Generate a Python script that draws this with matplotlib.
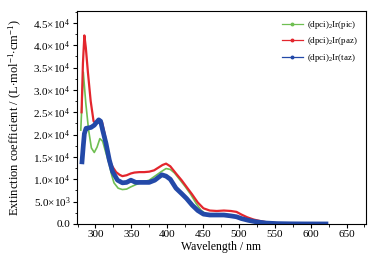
import numpy as np
import matplotlib
matplotlib.use("Agg")
import matplotlib.pyplot as plt
from matplotlib.ticker import FuncFormatter, MultipleLocator
from matplotlib.lines import Line2D

plt.rcParams['font.family'] = ['Liberation Serif', 'DejaVu Serif']
plt.rcParams['mathtext.fontset'] = 'custom'
plt.rcParams['mathtext.rm'] = 'Liberation Serif'
plt.rcParams['mathtext.it'] = 'Liberation Serif:italic'

# wavelength (nm) / extinction coefficient (1e4 L mol-1 cm-1)
wl_pic = [279.5, 283, 286.5, 290.4, 294.3, 298.3, 302.2, 306.1, 310, 314, 318.9, 322.8, 325.8, 331.6,
          337.5, 343.4, 349.3, 356.2, 366, 374.9, 383.7, 391.6, 398.4, 404.3, 410.2, 417.1, 424.9, 432.8,
          440.7, 447.5, 454.4, 464.2, 474, 483.9, 491.7, 498.6, 508.4, 518.2, 533, 547.7, 562.4, 582]
eps_pic = [2.1, 3.4, 2.7, 2.1, 1.7, 1.6, 1.72, 1.91, 1.85, 1.62, 1.35, 1.08, 0.92, 0.8,
           0.77, 0.78, 0.83, 0.88, 0.94, 0.98, 1.08, 1.17, 1.24, 1.22, 1.14, 1.0, 0.84, 0.66,
           0.45, 0.3, 0.22, 0.2, 0.2, 0.2, 0.18, 0.14, 0.09, 0.05, 0.02, 0.008, 0.003, 0.0]

wl_paz = [280.6, 282.5, 284.5, 286.5, 289.4, 293.3, 297.3, 301.2, 305.1, 309.1, 313, 317, 320.8, 323.8,
          328.7, 333.6, 337.5, 343.4, 349.3, 354.2, 361.1, 368, 374.9, 381.7, 387.6, 393.5, 398.4, 404.3,
          412.2, 420, 426.9, 434.8, 442.6, 450.5, 459.3, 469.1, 479, 488.8, 496.6, 503.5, 511.4, 520.2,
          528, 537.9, 552.6, 567.3, 582, 601.7]
eps_paz = [2.5, 3.6, 4.22, 3.95, 3.4, 2.75, 2.3, 2.25, 2.34, 2.28, 2.0, 1.62, 1.38, 1.28,
           1.16, 1.1, 1.07, 1.09, 1.13, 1.15, 1.16, 1.16, 1.17, 1.2, 1.26, 1.32, 1.35, 1.29,
           1.13, 0.98, 0.83, 0.66, 0.48, 0.35, 0.3, 0.29, 0.3, 0.29, 0.27, 0.21, 0.15, 0.1,
           0.07, 0.04, 0.02, 0.008, 0.003, 0.0]

wl_taz = [281.2, 283, 284.5, 286.8, 290.4, 293.7, 298.3, 301.2, 304.5, 307.1, 310, 314.7, 319.3, 323.8,
          330.7, 337.5, 343.4, 349.3, 356.2, 366, 374.9, 382.7, 387.6, 392.5, 398.4, 404.3, 412.2, 420,
          426.9, 434.8, 442.6, 450.5, 459.3, 469.1, 479, 488.8, 496.6, 503.5, 513.3, 523.1, 537.9, 552.6,
          572.4, 592, 621.3]
eps_taz = [1.39, 1.75, 2.02, 2.14, 2.15, 2.16, 2.21, 2.27, 2.33, 2.3, 2.1, 1.8, 1.43, 1.17,
           0.98, 0.92, 0.93, 0.98, 0.93, 0.93, 0.93, 0.98, 1.04, 1.1, 1.07, 1.0, 0.8, 0.68,
           0.57, 0.42, 0.3, 0.22, 0.2, 0.2, 0.2, 0.18, 0.16, 0.12, 0.08, 0.05, 0.02, 0.008,
           0.003, 0.001, 0.0]

labels = [r'(dpci)$_2$Ir(pic)', r'(dpci)$_2$Ir(paz)', r'(dpci)$_2$Ir(taz)']
colors = ['#6fbf52', '#e3262d', '#2349a8']

fig = plt.figure(figsize=(3.73, 2.58), dpi=100)
ax = fig.add_axes([0.206, 0.132, 0.775, 0.826])

ax.plot(wl_pic, np.array(eps_pic) * 1e4, color=colors[0], lw=1.2)
ax.plot(wl_paz, np.array(eps_paz) * 1e4, color=colors[1], lw=1.6)
ax.plot(wl_taz, np.array(eps_taz) * 1e4, color=colors[2], lw=3.4)

ax.set_xlim(274, 677)
ax.set_ylim(0, 4.77e4)
ax.xaxis.set_major_locator(MultipleLocator(50))
ax.xaxis.set_minor_locator(MultipleLocator(25))
ax.yaxis.set_major_locator(MultipleLocator(5000))
ax.yaxis.set_minor_locator(MultipleLocator(2500))


def sci(v, pos):
    if abs(v) < 1e-9:
        return '0.0'
    if v < 0:
        return ''
    e = int(np.floor(np.log10(v)))
    m = v / 10 ** e
    return r'%.1f$\times$10$^{%d}$' % (m, e)


ax.yaxis.set_major_formatter(FuncFormatter(sci))
ax.tick_params(which='both', direction='out', top=False, right=False, labelsize=8, pad=1.5)
ax.tick_params(which='major', length=3, width=0.8)
ax.tick_params(which='minor', length=1.8, width=0.6)
for s in ax.spines.values():
    s.set_linewidth(0.8)

ax.set_xlabel('Wavelength / nm', fontsize=8.5, labelpad=1)
ax.set_ylabel(r'Extinction coefficient / (L$\cdot$mol$^{-1}$$\cdot$cm$^{-1}$)', fontsize=9, labelpad=7)

handles = [Line2D([], [], color=c, lw=0.9, marker='o', markersize=1.8) for c in colors]
ax.legend(handles, labels, loc='upper right', frameon=False, fontsize=6.5,
          handlelength=2.4, handletextpad=0.4, labelspacing=0.5,
          borderaxespad=0.5, markerscale=1)

fig.savefig('out.png', dpi=100)
